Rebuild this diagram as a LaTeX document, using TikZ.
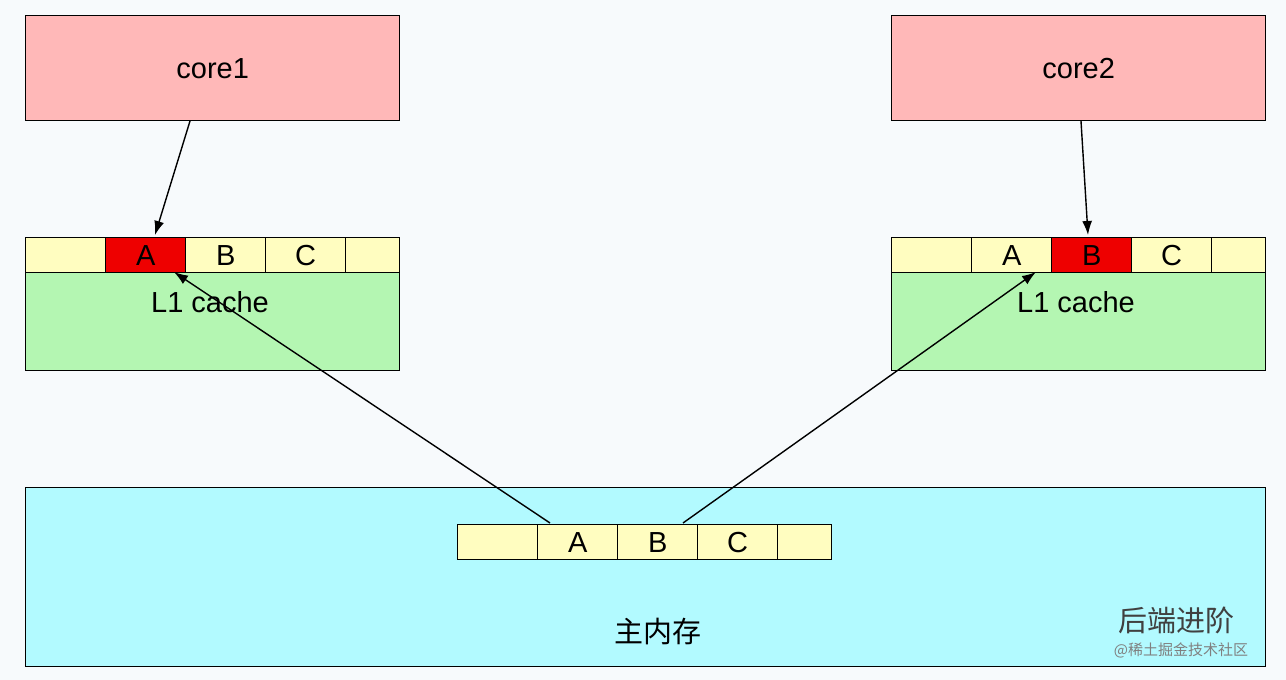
\documentclass[tikz,border=0pt]{standalone}
\usepackage{fontspec}
\setmainfont{Liberation Sans}
\newfontfamily\cjk{Noto Sans CJK SC}
\usetikzlibrary{arrows.meta}
\definecolor{corec}{HTML}{FFB8B8}
\definecolor{cellc}{HTML}{FFFDC0}
\definecolor{l1c}{HTML}{B4F6B2}
\definecolor{memc}{HTML}{B2FAFF}
\definecolor{hotc}{HTML}{EE0000}
\definecolor{bgc}{HTML}{F7FAFC}
\begin{document}
\begin{tikzpicture}[x=1pt,y=-1pt,
  box/.style={draw=black,line width=1.4pt,anchor=north west,inner sep=0pt},
  cell/.style={box,fill=cellc,minimum height=35pt,font=\fontsize{29}{32}\selectfont},
  lbl/.style={font=\fontsize{29}{32}\selectfont},
  arr/.style={-{Latex[length=14pt,width=10pt]},line width=1.4pt}]
\useasboundingbox (0,0) rectangle (1286,680);
\fill[bgc] (0,0) rectangle (1286,680);
% cores
\node[box,fill=corec,minimum width=374pt,minimum height=105pt,lbl] (core1) at (25,15) {core1};
\node[box,fill=corec,minimum width=374pt,minimum height=105pt,lbl] (core2) at (891,15) {core2};
% L1 left
\node[box,fill=l1c,minimum width=374pt,minimum height=98pt] (l1a) at (25,272) {};
\node[lbl] (l1alab) at (210,302) {L1 cache};
\node[cell,minimum width=80pt] (la0) at (25,237) {};
\node[cell,minimum width=80pt,fill=hotc] (laA) at (105,237) {A};
\node[cell,minimum width=80pt] (laB) at (185,237) {B};
\node[cell,minimum width=80pt] (laC) at (265,237) {C};
\node[cell,minimum width=54pt] (la4) at (345,237) {};
% L1 right
\node[box,fill=l1c,minimum width=374pt,minimum height=98pt] (l1b) at (891,272) {};
\node[lbl] (l1blab) at (1076,302) {L1 cache};
\node[cell,minimum width=80pt] (lb0) at (891,237) {};
\node[cell,minimum width=80pt] (lbA) at (971,237) {A};
\node[cell,minimum width=80pt,fill=hotc] (lbB) at (1051,237) {B};
\node[cell,minimum width=80pt] (lbC) at (1131,237) {C};
\node[cell,minimum width=54pt] (lb4) at (1211,237) {};
% memory
\node[box,fill=memc,minimum width=1240pt,minimum height=179pt] (mem) at (25,487) {};
\node[lbl,font=\cjk\fontsize{29}{32}\selectfont] (memlab) at (658,632) {主内存};
\node[cell,minimum width=80pt] (m0) at (457,524) {};
\node[cell,minimum width=80pt] (mA) at (537,524) {A};
\node[cell,minimum width=80pt] (mB) at (617,524) {B};
\node[cell,minimum width=80pt] (mC) at (697,524) {C};
\node[cell,minimum width=54pt] (m4) at (777,524) {};
% arrows
\coordinate (c1s) at (190,121);
\coordinate (c1e) at (155,235);
\coordinate (c2s) at (1081,121);
\coordinate (c2e) at (1088,235);
\coordinate (mls) at (550,523);
\coordinate (mle) at (174,272);
\coordinate (mrs) at (683,523);
\coordinate (mre) at (1036,272);
\draw[arr] (c1s) -- (c1e);
\draw[arr] (c2s) -- (c2e);
\draw[arr] (mls) -- (mle);
\draw[arr] (mrs) -- (mre);
% watermark
\node[font=\cjk\fontsize{29}{32}\selectfont,text=black!75] (wm1) at (1176,620) {后端进阶};
\node[font=\cjk\fontsize{15}{17}\selectfont,text=gray] (wm2) at (1181,650) {@稀土掘金技术社区};
\end{tikzpicture}
\end{document}
